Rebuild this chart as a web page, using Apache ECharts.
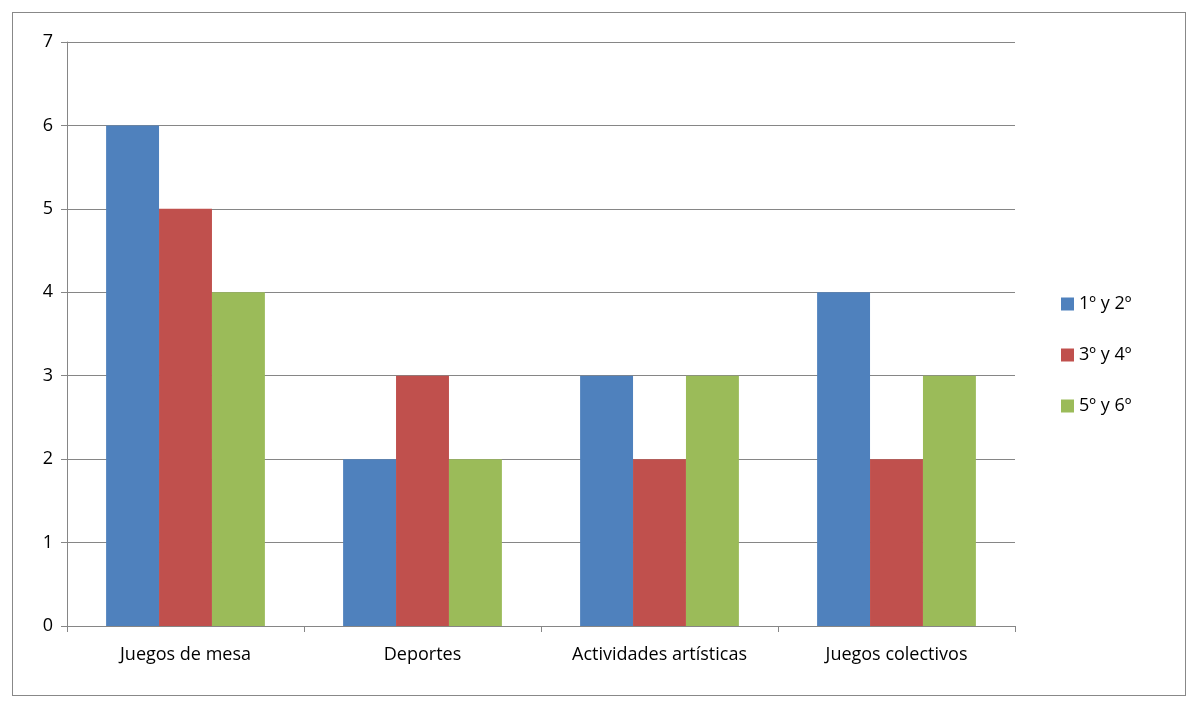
<!DOCTYPE html>
<html><head><meta charset="utf-8">
<script src="https://cdn.jsdelivr.net/npm/echarts@6/dist/echarts.min.js"></script>
<style>html,body{margin:0;padding:0;background:#fff}#c{width:1200px;height:710px}
#frame{position:absolute;left:12px;top:12px;width:1174px;height:684px;border:1px solid #888;box-sizing:border-box;pointer-events:none}</style>
</head><body><div id="c"></div><div id="frame"></div>
<script>
const categories = ['Juegos de mesa','Deportes','Actividades artísticas','Juegos colectivos'];
const seriesNames = ['1º y 2º','3º y 4º','5º y 6º'];
const s1 = [6,2,3,4];
const s2 = [5,3,2,2];
const s3 = [4,2,3,3];
const colors = ['#4F81BD','#C0504D','#9BBB59'];
const font = 'Open Sans';
const chart = echarts.init(document.getElementById('c'));
chart.setOption({
  animation:false,
  textStyle:{fontFamily:font},
  grid:{left:67,right:185,top:42,bottom:84},
  legend:{orient:'vertical',left:1056,top:290,itemWidth:13,itemHeight:13,itemGap:33,
    icon:'rect',textStyle:{fontSize:18,color:'#000',fontFamily:font},data:seriesNames},
  xAxis:{type:'category',data:categories,
    axisLine:{lineStyle:{color:'#868686'}},
    axisTick:{show:true,length:6,lineStyle:{color:'#868686'}},
    axisLabel:{fontSize:18,color:'#000',margin:20}},
  yAxis:{type:'value',min:0,max:7,interval:1,
    axisLine:{show:true,lineStyle:{color:'#868686'}},
    axisTick:{show:true,length:6,inside:false,lineStyle:{color:'#868686'}},
    splitLine:{lineStyle:{color:'#868686'}},
    axisLabel:{fontSize:18,color:'#000',margin:14}},
  series:[s1,s2,s3].map((d,i)=>({name:seriesNames[i],type:'bar',data:d,
    itemStyle:{color:colors[i]},barGap:'0%',barCategoryGap:'33%'}))
});
</script></body></html>
